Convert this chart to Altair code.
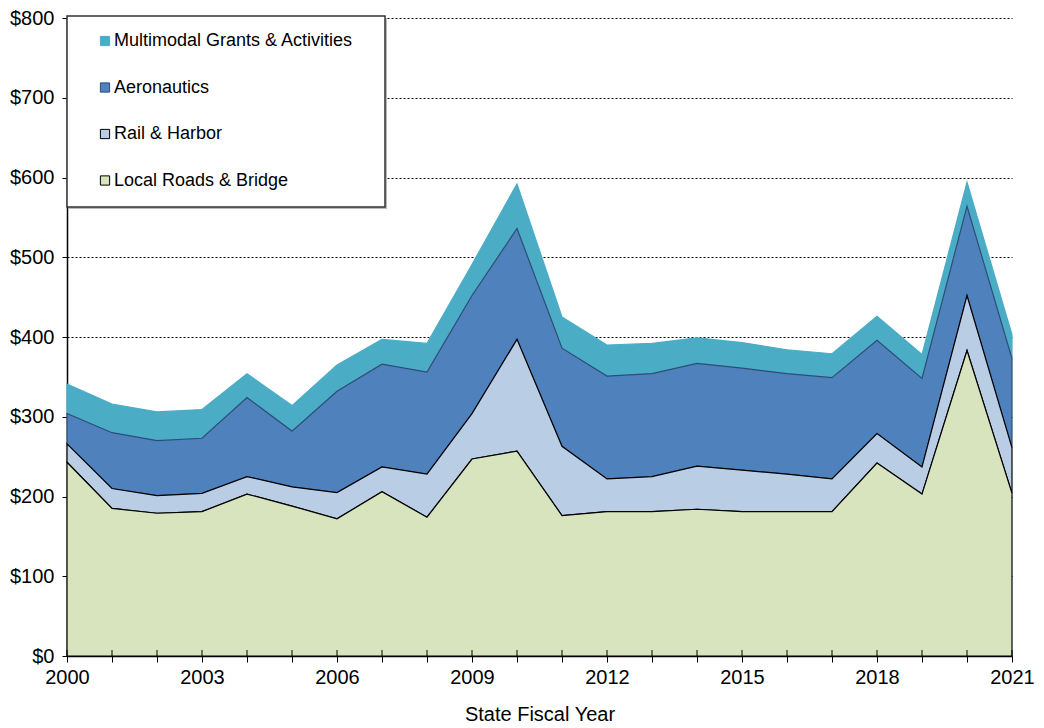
import altair as alt
import pandas as pd

years = list(range(2000, 2022))
local_roads = [243, 185, 179, 181, 203, 188, 172, 206, 174, 247, 257, 176, 181, 181, 184, 181, 181, 181, 242, 203, 383, 204]
rail_harbor = [23, 25, 22, 23, 22, 24, 33, 31, 54, 57, 140, 87, 41, 44, 54, 52, 47, 41, 37, 34, 69, 57]
aeronautics = [38, 70, 69, 69, 99, 70, 127, 129, 128, 148, 139, 123, 129, 129, 129, 128, 126, 127, 117, 111, 112, 112]
multimodal = [37, 36, 36, 36, 30, 32, 33, 31, 36, 39, 56, 39, 39, 38, 32, 32, 30, 30, 30, 30, 30, 30]

series_names = ["Multimodal Grants & Activities", "Aeronautics", "Rail & Harbor", "Local Roads & Bridge"]
series_fills = ["#4BACC6", "#4F81BD", "#B9CDE5", "#D7E4BD"]
series_strokes = ["#4BACC6", "#2C4D75", "#000000", "#000000"]
stack_rank = [3, 2, 1, 0]
y_ticks = [0, 100, 200, 300, 400, 500, 600, 700, 800]

series_values = [multimodal, aeronautics, rail_harbor, local_roads]
rows = []
for name, vals, rank in zip(series_names, series_values, stack_rank):
    for yr, v in zip(years, vals):
        rows.append({"year": yr, "series": name, "value": v, "rank": rank})
df = pd.DataFrame(rows)
ticks_df = pd.DataFrame({"year": years})
box_df = pd.DataFrame({"k": [0]})

font = "Liberation Sans"
plot_h = 638

x_enc = alt.X(
    "year:Q",
    scale=alt.Scale(domain=[2000, 2021], nice=False, zero=False),
    axis=alt.Axis(
        values=years, format="d", title="State Fiscal Year",
        labelExpr="(datum.value - 2000) % 3 == 0 ? datum.label : ''",
        grid=False, ticks=True, tickSize=6, tickColor="#000000", tickWidth=1,
        labelFontSize=20, labelPadding=5, labelFlush=False, labelOverlap=False,
        titleFontSize=20, titleFontWeight="normal", titlePadding=17,
        domainColor="#000000", domainWidth=1.5, labelColor="#000000", titleColor="#000000",
    ),
)

area = alt.Chart(df).mark_area(strokeWidth=1.2, opacity=1).encode(
    x=x_enc,
    y=alt.Y(
        "value:Q", stack="zero",
        scale=alt.Scale(domain=[0, 800], nice=False),
        axis=alt.Axis(
            values=y_ticks, title=None, labelExpr="'$' + datum.value",
            labelFontSize=20, labelPadding=8, tickSize=5, tickColor="#000000",
            grid=True, gridColor="#000000", gridDash=[2, 2], gridWidth=1,
            domainColor="#000000", domainWidth=1.5, labelColor="#000000",
        ),
    ),
    color=alt.Color(
        "series:N",
        scale=alt.Scale(domain=series_names, range=series_fills),
        legend=alt.Legend(
            title=None, orient="none", legendX=29, legendY=14,
            padding=0, symbolType="square", symbolSize=85,
            symbolStrokeColor="#333333", symbolStrokeWidth=1,
            labelFontSize=18, labelColor="#000000",
            rowPadding=28.5, labelOffset=0, labelLimit=400,
        ),
    ),
    stroke=alt.Stroke("series:N", scale=alt.Scale(domain=series_names, range=series_strokes), legend=None),
    order=alt.Order("rank:Q", sort="ascending"),
)

year_ticks = alt.Chart(ticks_df).mark_rule(color="#000000", strokeWidth=1).encode(
    x=alt.X("year:Q"),
    y=alt.value(plot_h),
    y2=alt.value(plot_h - 6),
)

box_shadow = alt.Chart(box_df).mark_rect(fill="#BBBBBB").encode(
    x=alt.value(2), x2=alt.value(320), y=alt.value(0), y2=alt.value(191),
)
box = alt.Chart(box_df).mark_rect(fill="#FFFFFF", stroke="#333333", strokeWidth=1.5).encode(
    x=alt.value(0), x2=alt.value(318), y=alt.value(-2), y2=alt.value(189),
)

chart = alt.layer(area, year_ticks, box_shadow, box).properties(
    width=945, height=plot_h,
    autosize=alt.AutoSizeParams(type="none"),
    padding={"left": 59, "top": 10, "right": 24, "bottom": 75},
).configure(font=font).configure_view(stroke=None)

chart.save("out.html", embed_options={"renderer": "svg", "actions": False})
